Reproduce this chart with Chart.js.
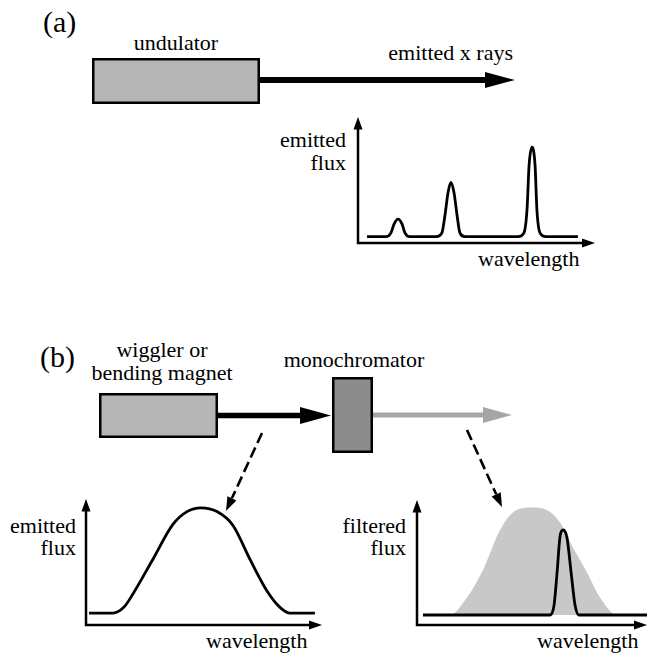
<!DOCTYPE html>
<html>
<head>
<meta charset="utf-8">
<script src="https://cdn.jsdelivr.net/npm/chart.js@4/dist/chart.umd.min.js"></script>
<style>
html,body{margin:0;padding:0;background:#fff;}
#wrap{position:relative;width:648px;height:654px;overflow:hidden;background:#fff;}
#diagram{position:absolute;left:0;top:0;}
canvas{position:absolute;}
</style>
</head>
<body>
<div id="wrap">
<svg id="diagram" width="648" height="654" xmlns="http://www.w3.org/2000/svg" font-family="'Liberation Serif', 'Times New Roman', 'DejaVu Serif', serif" font-size="22">
  <!-- (a) -->
  <text font-size="30" x="43" y="32">(a)</text>
  <text x="176" y="50" text-anchor="middle">undulator</text>
  <rect x="93.25" y="59.25" width="165.5" height="43.5" fill="#b6b6b6" stroke="#000" stroke-width="2.5"/>
  <line x1="260" y1="80" x2="488" y2="80" stroke="#000" stroke-width="6"/>
  <polygon points="485,72 515,80 485,88" fill="#000"/>
  <text x="513" y="60" text-anchor="end">emitted x rays</text>
  <text x="346" y="147" text-anchor="end">emitted</text>
  <text x="346" y="170" text-anchor="end">flux</text>
  <text x="478" y="266">wavelength</text>

  <!-- (b) -->
  <text font-size="30" x="40" y="367">(b)</text>
  <text x="162" y="357" text-anchor="middle">wiggler or</text>
  <text x="162" y="380" text-anchor="middle">bending magnet</text>
  <text x="354" y="367" text-anchor="middle">monochromator</text>
  <rect x="100.25" y="394.25" width="116.5" height="42.5" fill="#b6b6b6" stroke="#000" stroke-width="2.5"/>
  <line x1="218" y1="415.5" x2="303" y2="415.5" stroke="#000" stroke-width="5.5"/>
  <polygon points="300,407 331,415.5 300,424" fill="#000"/>
  <line x1="373" y1="415" x2="486" y2="415" stroke="#a6a6a6" stroke-width="5"/>
  <polygon points="483,407 512,415 483,423" fill="#a6a6a6"/>
  <rect x="333.25" y="378.25" width="38.5" height="73.5" fill="#8c8c8c" stroke="#000" stroke-width="2.5"/>

  <!-- dashed arrows -->
  <line x1="262" y1="433" x2="231.9" y2="498.3" stroke="#000" stroke-width="2.6" stroke-dasharray="11,5"/>
  <polygon points="226,511 236.4,500.4 227.4,496.2" fill="#000"/>
  <line x1="467" y1="430" x2="496.2" y2="494.3" stroke="#000" stroke-width="2.6" stroke-dasharray="11,5"/>
  <polygon points="502,507 500.75,492.2 491.65,496.4" fill="#000"/>

  <text x="76" y="533" text-anchor="end">emitted</text>
  <text x="76" y="555" text-anchor="end">flux</text>
  <text x="206" y="648">wavelength</text>
  <text x="406" y="533" text-anchor="end">filtered</text>
  <text x="406" y="555" text-anchor="end">flux</text>
  <text x="537" y="648">wavelength</text>
</svg>
<canvas id="chartA" width="257" height="146" style="left:348px;top:107px"></canvas>
<canvas id="chartB" width="256" height="146" style="left:76px;top:489px"></canvas>
<canvas id="chartC" width="241" height="145" style="left:407px;top:490px"></canvas>
</div>
<script>
// ---- data (wavelength / flux, arbitrary units 0-100) ----
// (a) undulator: emitted flux with harmonic peaks
const waveA = [3.8, 11.8, 13.9, 15.2, 16.9, 18.6, 19.8, 21.9, 32.9, 35.4, 36.7, 38.0, 39.2, 40.5, 41.8, 43.0, 45.1, 67.5, 70.0, 71.3, 72.2, 73.4, 74.7, 75.5, 76.8, 79.3, 92.8];
const fluxA = [5, 5, 8, 15, 19, 15, 8, 5, 5, 8, 22, 40, 48, 40, 22, 8, 5, 5, 8, 26, 62, 76, 62, 26, 8, 5, 5];

// (b) wiggler / bending magnet: broad emitted flux
const waveB = [1.3, 11.4, 16, 20, 28, 36.9, 42.8, 48.7, 55.5, 62.3, 69.5, 76.7, 82.2, 86.4, 97.0];
const fluxB = [9.5, 9.5, 14, 25, 51, 80, 90, 93, 90, 79, 52, 27, 14, 9.5, 9.5];

// (b) after monochromator: filtered flux (narrow) and original spectrum (gray)
const waveC = [2.6, 57.8, 59.6, 60.9, 62.2, 63.5, 65.2, 67.0, 68.7, 70.4, 100];
const fluxC = [8, 8, 16, 42, 71, 76, 70, 42, 16, 8, 8];
const waveG = [8, 14.3, 21.7, 28.7, 36.1, 41.7, 50.0, 56.5, 62.2, 67.8, 73.9, 79.6, 87.0, 94];
const fluxG = [8, 8, 22, 44, 76, 90, 94, 92, 82, 62, 42, 22, 8, 8];
const baselineC = 8;

const pts = (xs, ys) => xs.map((x, i) => ({x: x, y: ys[i]}));

const axesArrows = {
  id: 'axesArrows',
  afterDatasetsDraw(chart) {
    const ctx = chart.ctx, sx = chart.scales.x, sy = chart.scales.y;
    const x0 = sx.getPixelForValue(sx.min), x1 = sx.getPixelForValue(sx.max);
    const y0 = sy.getPixelForValue(sy.min), y1 = sy.getPixelForValue(sy.max);
    ctx.save();
    ctx.strokeStyle = '#000'; ctx.fillStyle = '#000'; ctx.lineWidth = 2.5;
    ctx.lineJoin = 'miter';
    ctx.beginPath();
    ctx.moveTo(x0, y1 + 10); ctx.lineTo(x0, y0); ctx.lineTo(x1 - 10, y0);
    ctx.stroke();
    ctx.beginPath();
    ctx.moveTo(x0, y1); ctx.lineTo(x0 - 4.5, y1 + 12.5); ctx.lineTo(x0 + 4.5, y1 + 12.5); ctx.closePath(); ctx.fill();
    ctx.beginPath();
    ctx.moveTo(x1, y0); ctx.lineTo(x1 - 13, y0 - 4.5); ctx.lineTo(x1 - 13, y0 + 4.5); ctx.closePath(); ctx.fill();
    ctx.restore();
  }
};

function curve(xs, ys, extra) {
  return Object.assign({
    data: pts(xs, ys),
    borderColor: '#000',
    borderWidth: 2.8,
    pointRadius: 0,
    fill: false,
    cubicInterpolationMode: 'monotone',
    clip: 12
  }, extra || {});
}

function makeChart(id, datasets, pad) {
  return new Chart(document.getElementById(id), {
    type: 'line',
    data: {datasets: datasets},
    options: {
      responsive: false,
      maintainAspectRatio: false,
      animation: false,
      devicePixelRatio: 1,
      events: [],
      layout: {padding: pad},
      plugins: {legend: {display: false}, tooltip: {enabled: false}},
      scales: {
        x: {type: 'linear', min: 0, max: 100, display: false},
        y: {type: 'linear', min: 0, max: 100, display: false}
      }
    },
    plugins: [axesArrows]
  });
}

makeChart('chartA', [curve(waveA, fluxA)], {left: 10, right: 10, top: 10, bottom: 10});
makeChart('chartB', [curve(waveB, fluxB)], {left: 10, right: 10, top: 10, bottom: 10});
makeChart('chartC', [
  curve(waveC, fluxC, {order: 0}),
  curve(waveG, fluxG, {order: 1, borderWidth: 0, borderColor: 'rgba(0,0,0,0)', backgroundColor: '#c8c8c8', fill: {value: baselineC}})
], {left: 10, right: 1, top: 10, bottom: 10});
</script>
</body>
</html>
